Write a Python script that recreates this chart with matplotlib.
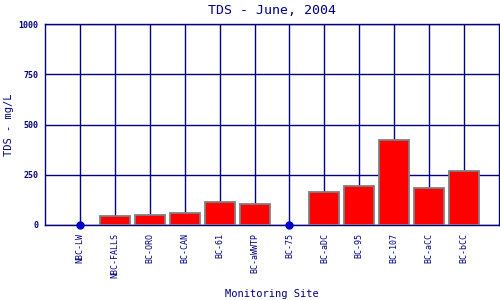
import matplotlib
matplotlib.use("Agg")
import matplotlib.pyplot as plt
import numpy as np

sites = ["NBC-LW", "NBC-FALLS", "BC-ORO", "BC-CAN", "BC-61", "BC-aWWTP", "BC-75",
         "BC-aDC", "BC-95", "BC-107", "BC-aCC", "BC-bCC"]
tds = [0, 43, 48, 58, 113, 103, 0, 163, 193, 421, 183, 267]
yticks = [0, 250, 500, 750, 1000]

navy = "#000080"
fam = ["DejaVu Sans Mono"]

fig = plt.figure(figsize=(5, 3), dpi=100)
ax = fig.add_axes([0.09, 0.25, 0.908, 0.67])

x = np.arange(len(sites))
vals = np.array(tds, dtype=float)
nz = vals > 0
ax.bar(x[nz], vals[nz], width=0.86, color="#ff0000", edgecolor="#808080",
       linewidth=1.3, zorder=3)
ax.plot(x[~nz], vals[~nz], "o", color="#0000cc", markersize=5, zorder=5, clip_on=False)

ax.set_xlim(-1, 12)
ax.set_ylim(0, 1000)
ax.set_xticks(x)
ax.set_xticklabels(sites, rotation=90, family=fam, fontsize=6, color=navy)
ax.set_yticks(yticks)
ax.set_yticklabels([str(v) for v in yticks], family=fam, fontsize=6, color=navy,
                   fontweight="bold")
ax.tick_params(axis="both", length=0, pad=6)
ax.tick_params(axis="y", pad=5)
ax.grid(True, color=navy, linewidth=1.0, zorder=0)
ax.set_axisbelow(True)
for s in ax.spines.values():
    s.set_color(navy)
    s.set_linewidth(1.0)

ax.set_title("TDS - June, 2004", family=fam, fontsize=9.5, color=navy, pad=7)
ax.set_xlabel("Monitoring Site", family=fam, fontsize=7.5, color=navy, labelpad=8)
ax.set_ylabel("TDS - mg/L", family=fam, fontsize=7.5, color=navy,
              va="center", ha="center")
ax.yaxis.set_label_coords(-0.08, 0.5)

fig.savefig("out.png", dpi=100)
